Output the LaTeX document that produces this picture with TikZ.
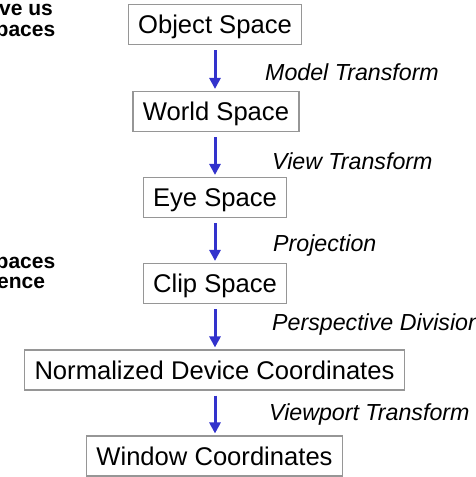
\documentclass[tikz,border=0pt]{standalone}
\usepackage{fontspec}
\setmainfont{Liberation Sans}
\usetikzlibrary{arrows.meta}
\definecolor{flowblue}{RGB}{51,51,204}
\definecolor{boxgray}{RGB}{150,150,150}

\begin{document}
\begin{tikzpicture}[x=1pt,y=-1pt,
  stage/.style={draw=boxgray, line width=1.1pt, fill=white,
    font=\fontsize{25.6}{30}\selectfont, inner xsep=10pt, inner ysep=0pt,
    text height=18.3pt, text depth=0pt,
    minimum height=40pt, anchor=center},
  xform/.style={font=\fontsize{23.2}{28}\selectfont\itshape, anchor=base west, inner sep=0pt},
  side/.style={font=\fontsize{21}{21}\selectfont\bfseries, anchor=base west, inner sep=0pt},
  flow/.style={-{Triangle[width=11pt,length=11pt]}, line width=3pt, draw=flowblue,
    shorten <=5pt, shorten >=2pt}]
\clip (0,0) rectangle (476,477);
\useasboundingbox (0,0) rectangle (476,477);

% pipeline stages
\node[stage] (obj)   at (215,24.5)  {Object Space};
\node[stage] (world) at (216,111.5) {World Space};
\node[stage] (eye)   at (215,197.5) {Eye Space};
\node[stage] (clip)  at (215,283.5) {Clip Space};
\node[stage] (ndc)   at (214.5,370) {Normalized Device Coordinates};
\node[stage] (win)   at (214.5,456) {Window Coordinates};

% transitions between stages
\draw[flow] (obj.south)  -- (obj.south |- world.north);
\draw[flow] (obj.south |- world.south) -- (obj.south |- eye.north);
\draw[flow] (eye.south)  -- (clip.north);
\draw[flow] (clip.south) -- (clip.south |- ndc.north);
\draw[flow] (clip.south |- ndc.south) -- (clip.south |- win.north);

% transformation names
\node[xform] (lmodel) at (265,80.5)  {Model Transform};
\node[xform] (lview)  at (272,169)   {View Transform};
\node[xform] (lproj)  at (273,251)   {Projection};
\node[xform] (lpersp) at (272,330)   {Perspective Division};
\node[xform] (lvport) at (269,420.5) {Viewport Transform};

% side text running off the left edge
\node[side] (s1) at (-1,15)   {ve us};
\node[side] (s2) at (-4.5,36) {paces};
\node[side] (s3) at (-4.5,268) {paces};
\node[side] (s4) at (-3,288)  {ence};
\end{tikzpicture}
\end{document}
